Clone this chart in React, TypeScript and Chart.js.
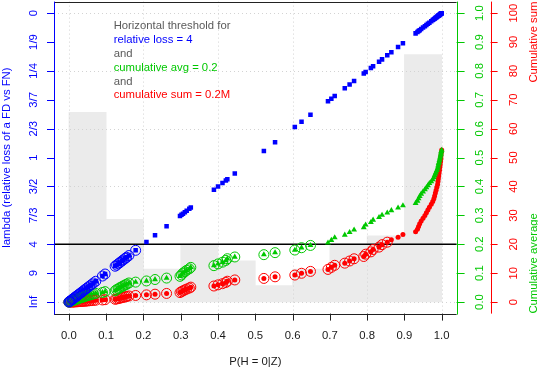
import React, { useEffect, useRef } from 'react';
import { Chart, registerables } from 'chart.js';

Chart.register(...registerables);

// P(H = 0 | Z), sorted
const pH0: number[] = [
  0.000, 0.002, 0.004, 0.008, 0.010, 0.012, 0.015, 0.018, 0.021, 0.024,
  0.027, 0.030, 0.034, 0.038, 0.042, 0.046, 0.050, 0.055, 0.060, 0.066,
  0.072, 0.090, 0.097, 0.124, 0.128, 0.133, 0.137, 0.142, 0.146, 0.151,
  0.155, 0.161, 0.179, 0.208, 0.231, 0.262, 0.298, 0.302, 0.306, 0.311,
  0.316, 0.323, 0.327, 0.389, 0.400, 0.412, 0.421, 0.425, 0.445, 0.523,
  0.553, 0.606, 0.624, 0.648, 0.695, 0.704, 0.713, 0.740, 0.753, 0.765,
  0.791, 0.796, 0.810, 0.816, 0.832, 0.840, 0.854, 0.865, 0.883, 0.896,
  0.930, 0.935, 0.938, 0.941, 0.945, 0.950, 0.955, 0.959, 0.963, 0.967,
  0.972, 0.976, 0.979, 0.981, 0.983, 0.985, 0.987, 0.989, 0.990, 0.991,
  0.992, 0.993, 0.994, 0.995, 0.996, 0.997, 0.998, 0.998, 0.999, 1.000,
];

// relative-loss position (left axis, same 0..1 scale)
const lossPos: number[] = pH0;

// cumulative average (green axis)
const cumAvg: number[] = [
  0.000, 0.001, 0.002, 0.004, 0.005, 0.006, 0.007, 0.009, 0.010, 0.011,
  0.013, 0.014, 0.016, 0.017, 0.019, 0.021, 0.022, 0.024, 0.026, 0.028,
  0.030, 0.033, 0.036, 0.039, 0.043, 0.046, 0.050, 0.053, 0.056, 0.059,
  0.062, 0.066, 0.069, 0.073, 0.078, 0.083, 0.089, 0.094, 0.100, 0.105,
  0.110, 0.115, 0.120, 0.126, 0.132, 0.138, 0.144, 0.150, 0.156, 0.164,
  0.171, 0.180, 0.188, 0.196, 0.205, 0.214, 0.223, 0.232, 0.241, 0.250,
  0.258, 0.267, 0.276, 0.284, 0.293, 0.301, 0.309, 0.317, 0.326, 0.334,
  0.342, 0.350, 0.358, 0.366, 0.374, 0.382, 0.389, 0.396, 0.403, 0.411,
  0.417, 0.424, 0.431, 0.438, 0.444, 0.450, 0.456, 0.462, 0.468, 0.474,
  0.480, 0.485, 0.491, 0.496, 0.502, 0.507, 0.512, 0.517, 0.522, 0.526,
];

// cumulative sum (red axis)
const cumSum: number[] = [
  0.00, 0.00, 0.01, 0.01, 0.02, 0.04, 0.05, 0.07, 0.09, 0.11,
  0.14, 0.17, 0.21, 0.24, 0.29, 0.33, 0.38, 0.44, 0.50, 0.56,
  0.63, 0.72, 0.82, 0.95, 1.07, 1.21, 1.34, 1.49, 1.63, 1.78,
  1.94, 2.10, 2.28, 2.49, 2.72, 2.98, 3.28, 3.58, 3.88, 4.20,
  4.51, 4.83, 5.16, 5.55, 5.95, 6.36, 6.78, 7.21, 7.65, 8.18,
  8.73, 9.34, 9.96, 10.61, 11.30, 12.01, 12.72, 13.46, 14.21, 14.98,
  15.77, 16.56, 17.37, 18.19, 19.02, 19.86, 20.72, 21.58, 22.46, 23.36,
  24.29, 25.23, 26.16, 27.10, 28.05, 29.00, 29.95, 30.91, 31.88, 32.84,
  33.82, 34.79, 35.77, 36.75, 37.73, 38.72, 39.71, 40.70, 41.69, 42.68,
  43.67, 44.66, 45.66, 46.65, 47.65, 48.64, 49.64, 50.64, 51.64, 52.64,
];

// number of points selected (circled) under each rule
const selLoss = 33;
const selAvg = 54;
const selSum = 67;
const thresholdPos = 0.2;

// histogram of P(H=0|Z)
const binCenters: number[] = [0.05, 0.15, 0.25, 0.35, 0.45, 0.55, 0.65, 0.75, 0.85, 0.95];
const binHeights: number[] = [0.657, 0.286, 0.114, 0.2, 0.143, 0.057, 0.114, 0.2, 0.229, 0.857];

const xTicks: number[] = [0, 0.1, 0.2, 0.3, 0.4, 0.5, 0.6, 0.7, 0.8, 0.9, 1.0];
const xTickLabels: string[] = ['0.0', '0.1', '0.2', '0.3', '0.4', '0.5', '0.6', '0.7', '0.8', '0.9', '1.0'];
const lambdaTicks: number[] = [0, 0.1, 0.2, 0.3, 0.4, 0.5, 0.6, 0.7, 0.8, 0.9, 1.0];
const lambdaLabels: string[] = ['Inf', '9', '4', '7/3', '3/2', '1', '2/3', '3/7', '1/4', '1/9', '0'];
const avgTicks: number[] = [0, 0.1, 0.2, 0.3, 0.4, 0.5, 0.6, 0.7, 0.8, 0.9, 1.0];
const avgLabels: string[] = ['0.0', '0.1', '0.2', '0.3', '0.4', '0.5', '0.6', '0.7', '0.8', '0.9', '1.0'];
const sumTicks: number[] = [0, 10, 20, 30, 40, 50, 60, 70, 80, 90, 100];
const gridVals: number[] = [0, 0.2, 0.4, 0.6, 0.8, 1.0];

const noteLines: string[] = [
  'Horizontal threshold for',
  'relative loss = 4',
  'and',
  'cumulative avg = 0.2',
  'and',
  'cumulative sum = 0.2M',
];

const BLUE = '#0000FF';
const GREEN = '#00C800';
const RED = '#FF0000';
const GREY_TXT = '#5a5a5a';
const FONT = '11.3px "Liberation Sans", Arial, Helvetica, sans-serif';

const noteColors = [GREY_TXT, BLUE, GREY_TXT, GREEN, GREY_TXT, RED];

function hline(ctx: CanvasRenderingContext2D, x1: number, x2: number, y: number) {
  const yy = Math.round(y) + 0.5;
  ctx.beginPath();
  ctx.moveTo(x1, yy);
  ctx.lineTo(x2, yy);
  ctx.stroke();
}
function vline(ctx: CanvasRenderingContext2D, x: number, y1: number, y2: number) {
  const xx = Math.round(x) + 0.5;
  ctx.beginPath();
  ctx.moveTo(xx, y1);
  ctx.lineTo(xx, y2);
  ctx.stroke();
}
function vtext(ctx: CanvasRenderingContext2D, s: string, x: number, y: number, align: CanvasTextAlign) {
  ctx.save();
  ctx.translate(x, y);
  ctx.rotate(-Math.PI / 2);
  ctx.textAlign = align;
  ctx.textBaseline = 'alphabetic';
  ctx.fillText(s, 0, 0);
  ctx.restore();
}

const rPlugin = {
  id: 'rStyle',
  afterDatasetDraw(chart: any, args: any) {
    if (args.index !== 0) return;
    const { ctx, chartArea: a, scales } = chart;
    const xs = scales.x;
    const ys = scales.y;
    ctx.save();
    ctx.strokeStyle = '#d3d3d3';
    ctx.lineWidth = 1;
    ctx.setLineDash([1, 3]);
    gridVals.forEach((v) => {
      vline(ctx, xs.getPixelForValue(v), a.top, a.bottom);
      hline(ctx, a.left, a.right, ys.getPixelForValue(v));
    });
    ctx.setLineDash([]);
    ctx.strokeStyle = '#000';
    ctx.lineWidth = 1.6;
    const ty = ys.getPixelForValue(thresholdPos);
    ctx.beginPath();
    ctx.moveTo(a.left, ty);
    ctx.lineTo(a.right, ty);
    ctx.stroke();
    ctx.restore();
  },
  afterDraw(chart: any) {
    const { ctx, chartArea: a, scales } = chart;
    const xs = scales.x;
    const ys = scales.y;
    const y2 = scales.y2;
    ctx.save();
    ctx.font = FONT;
    ctx.lineWidth = 1;

    // box
    ctx.strokeStyle = '#222';
    hline(ctx, a.left, a.right, a.top);
    hline(ctx, a.left, a.right, a.bottom);
    ctx.strokeStyle = BLUE;
    vline(ctx, a.left, a.top, a.bottom + 1);
    ctx.strokeStyle = GREEN;
    vline(ctx, a.right, a.top, a.bottom + 1);

    // bottom axis
    ctx.strokeStyle = '#222';
    ctx.fillStyle = '#1a1a1a';
    ctx.textAlign = 'center';
    ctx.textBaseline = 'alphabetic';
    xTicks.forEach((v, i) => {
      const px = xs.getPixelForValue(v);
      vline(ctx, px, a.bottom, a.bottom + 7);
      ctx.fillText(xTickLabels[i], px, a.bottom + 25.5);
    });
    ctx.fillText('P(H = 0|Z)', (a.left + a.right) / 2, a.bottom + 51.5);

    // left axis (lambda)
    ctx.strokeStyle = BLUE;
    ctx.fillStyle = BLUE;
    lambdaTicks.forEach((v, i) => {
      const py = ys.getPixelForValue(v);
      hline(ctx, a.left - 7, a.left, py);
      vtext(ctx, lambdaLabels[i], a.left - 17.5, py, 'center');
    });
    vtext(ctx, 'lambda (relative loss of a FD vs FN)', 10, (a.top + a.bottom) / 2, 'center');

    // green axis (cumulative average)
    ctx.strokeStyle = GREEN;
    ctx.fillStyle = GREEN;
    avgTicks.forEach((v, i) => {
      const py = ys.getPixelForValue(v);
      hline(ctx, a.right, a.right + 8, py);
      vtext(ctx, avgLabels[i], a.right + 26, py, 'center');
    });
    vtext(ctx, 'Cumulative average', a.right + 80, a.bottom, 'left');

    // red axis (cumulative sum)
    const rx = a.right + 34;
    ctx.strokeStyle = RED;
    ctx.fillStyle = RED;
    vline(ctx, rx, a.top, a.bottom);
    sumTicks.forEach((v) => {
      const py = y2.getPixelForValue(v);
      hline(ctx, rx, rx + 7, py);
      vtext(ctx, String(v), rx + 26.5, py, 'center');
    });
    vtext(ctx, 'Cumulative sum', a.right + 80, a.top, 'right');

    // note text
    ctx.textAlign = 'left';
    ctx.textBaseline = 'alphabetic';
    noteLines.forEach((s, i) => {
      ctx.fillStyle = noteColors[i];
      ctx.fillText(s, xs.getPixelForValue(0.12), 29.3 + i * 13.8);
    });
    ctx.restore();
  },
};

export default function App() {
  const ref = useRef<HTMLCanvasElement>(null);
  useEffect(() => {
    if (!ref.current) return;
    const pts = (ys: number[], n?: number) =>
      pH0.slice(0, n ?? pH0.length).map((v, i) => ({ x: v, y: ys[i] }));
    const chart = new Chart(ref.current, {
      type: 'scatter',
      data: {
        datasets: [
          {
            type: 'bar',
            data: binCenters.map((c, i) => ({ x: c, y: binHeights[i] })),
            backgroundColor: '#EBEBEB',
            borderWidth: 0,
            categoryPercentage: 1,
            barPercentage: 1,
            grouped: false,
            order: 10,
            xAxisID: 'x',
            yAxisID: 'y',
          } as any,
          {
            data: pts(cumSum),
            yAxisID: 'y2',
            pointStyle: 'circle',
            pointRadius: 2.5,
            backgroundColor: RED,
            borderWidth: 0,
            order: 6,
          },
          {
            data: pts(cumAvg),
            yAxisID: 'y',
            pointStyle: 'triangle',
            pointRadius: 3.4,
            backgroundColor: GREEN,
            borderWidth: 0,
            order: 5,
          },
          {
            data: pts(lossPos),
            yAxisID: 'y',
            pointStyle: 'rect',
            pointRadius: 3.2,
            backgroundColor: BLUE,
            borderWidth: 0,
            order: 4,
          },
          {
            data: pts(cumSum, selSum),
            yAxisID: 'y2',
            pointStyle: 'circle',
            pointRadius: 5,
            backgroundColor: 'rgba(0,0,0,0)',
            borderColor: RED,
            borderWidth: 1,
            order: 3,
          },
          {
            data: pts(cumAvg, selAvg),
            yAxisID: 'y',
            pointStyle: 'circle',
            pointRadius: 5,
            backgroundColor: 'rgba(0,0,0,0)',
            borderColor: GREEN,
            borderWidth: 1,
            order: 2,
          },
          {
            data: pts(lossPos, selLoss),
            yAxisID: 'y',
            pointStyle: 'circle',
            pointRadius: 5,
            backgroundColor: 'rgba(0,0,0,0)',
            borderColor: BLUE,
            borderWidth: 1,
            order: 1,
          },
        ],
      },
      options: {
        animation: false,
        responsive: false,
        events: [],
        layout: { autoPadding: false, padding: { left: 54, right: 81.4, top: 1.6, bottom: 55.4 } },
        plugins: { legend: { display: false }, tooltip: { enabled: false } },
        scales: {
          x: { type: 'linear', offset: false, min: -0.04, max: 1.04, display: false, ticks: { includeBounds: false, stepSize: 0.1 } },
          y: { type: 'linear', min: -0.04, max: 1.04, display: false, ticks: { includeBounds: false } },
          y2: { type: 'linear', min: -4, max: 104, display: false, position: 'right', ticks: { includeBounds: false } },
        },
      },
      plugins: [rPlugin],
    });
    return () => chart.destroy();
  }, []);
  return (
    <div style={{ position: 'fixed', left: 0, top: 0, width: 538, height: 369, background: '#fff' }}>
      <canvas ref={ref} width={538} height={369} style={{ width: 538, height: 369, display: 'block' }} />
    </div>
  );
}
